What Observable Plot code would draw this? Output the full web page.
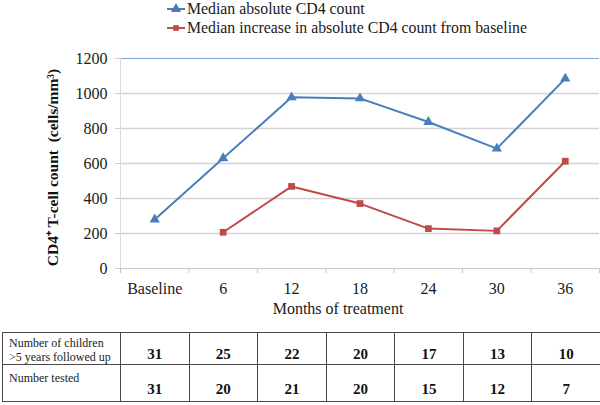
<!DOCTYPE html>
<html>
<head>
<meta charset="utf-8">
<script src="https://cdn.jsdelivr.net/npm/d3@7"></script>
<script src="https://cdn.jsdelivr.net/npm/@observablehq/plot@0.6"></script>
<style>
  html, body { margin: 0; padding: 0; background: #fff; }
  #wrap { width: 600px; height: 405px; position: relative; font-family: "Liberation Serif", "Times New Roman", serif; color: #1a1a1a; overflow: hidden; }
  #legend { height: 40px; position: relative; font-size: 15.8px; }
  .lg { position: absolute; left: 166px; display: flex; align-items: center; white-space: nowrap; }
  .lg svg { display: block; margin-right: 1px; }
  #chart svg text { font-family: "Liberation Serif", "Times New Roman", serif !important; }
  table { position: absolute; left: 2px; top: 332px; border-collapse: collapse; table-layout: fixed; width: 598px; }
  td { border: 1px solid #4a4a4a; padding: 0; font-family: "Liberation Serif", serif; overflow: hidden; }
  td.h { font-size: 12px; line-height: 14px; vertical-align: top; color: #222; white-space: nowrap; }
  tr.r1 td.h { padding: 3px 0 0 6px; }
  tr.r2 td.h { padding: 6px 0 0 6px; }
  td.n { font-weight: bold; font-size: 15px; text-align: center; vertical-align: middle; color: #111; padding-top: 12px; line-height: 15px; }
</style>
</head>
<body>
<div id="wrap">
  <div id="legend"></div>
  <div id="chart"></div>
  <table id="tbl"></table>
</div>
<script>
const categories = ["Baseline", "6", "12", "18", "24", "30", "36"];
const absoluteCD4 = [280, 630, 978, 972, 837, 685, 1085];
const increaseCD4 = [null, 207, 469, 371, 228, 215, 613];
const yTicks = [0, 200, 400, 600, 800, 1000, 1200];
const seriesNames = ["Median absolute CD4 count", "Median increase in absolute CD4 count from baseline"];
const rowLabels = [["Number of children", ">5 years followed up"], ["Number tested"]];
const followedUp = [31, 25, 22, 20, 17, 13, 10];
const tested = [31, 20, 21, 20, 15, 12, 7];
const yTitle = "CD4\u207A T-cell count  (cells/mm\u00B3)";
const xTitle = "Months of treatment";

const blue = "#4a7ebb", red = "#be4b48";
const serif = "Liberation Serif";
const idx = categories.map((_, i) => i);
const absData = idx.map(i => ({i, v: absoluteCD4[i]}));
const incData = idx.filter(i => increaseCD4[i] != null).map(i => ({i, v: increaseCD4[i]}));
const bounds = [...idx.map(i => i - 0.5), idx.length - 0.5];

// Legend
const legend = document.getElementById("legend");
[[seriesNames[0], blue, "triangle", 9], [seriesNames[1], red, "square", 28]].forEach(([name, col, sym, cy]) => {
  const div = document.createElement("div");
  div.className = "lg";
  div.style.top = (cy - 9) + "px";
  const symPath = sym === "triangle"
    ? d3.symbol(d3.symbolTriangle, Math.PI * 3.8 * 3.8)()
    : d3.symbol(d3.symbolSquare, Math.PI * 3.2 * 3.2)();
  div.innerHTML = `<svg width="20" height="18"><line x1="1" x2="19" y1="9" y2="9" stroke="${col}" stroke-width="2"/><path d="${symPath}" transform="translate(10,9)" fill="${col}"/></svg><span>${name}</span>`;
  legend.appendChild(div);
});

const chart = Plot.plot({
  width: 600,
  height: 290,
  marginLeft: 120,
  marginRight: 1,
  marginTop: 18,
  marginBottom: 62,
  style: {fontFamily: "'Liberation Serif', serif", fontSize: "16px", color: "#1a1a1a", background: "white"},
  x: {type: "linear", domain: [-0.5, idx.length - 0.5]},
  y: {domain: [0, 1200]},
  marks: [
    Plot.gridY(yTicks.filter(t => t > 0 && t < 1200), {stroke: "#d4d4d4", strokeOpacity: 1, strokeWidth: 1.3}),
    Plot.ruleY([1200], {stroke: "#7ba3d6", strokeWidth: 1.2}),
    Plot.ruleY([0], {stroke: "#c8c8c8", strokeWidth: 1.2}),
    Plot.ruleX([-0.5], {stroke: "#dadada"}),
    Plot.axisY({ticks: yTicks, tickSize: 5, tickFormat: () => "", stroke: "#cfcfcf", label: null}),
    Plot.axisY({ticks: yTicks, tickSize: 0, tickPadding: 13, tickFormat: d => String(d), label: null, fill: "#1a1a1a", fontSize: 16, fontFamily: serif}),
    Plot.axisX({ticks: bounds, tickSize: 5, tickFormat: () => "", stroke: "#c8c8c8", label: null}),
    Plot.axisX({ticks: idx, tickSize: 0, tickPadding: 14, tickFormat: i => categories[i], label: null, fill: "#1a1a1a", fontSize: 16, fontFamily: serif}),
    Plot.line(absData, {x: "i", y: "v", stroke: blue, strokeWidth: 2}),
    Plot.dot(absData, {x: "i", y: "v", symbol: "triangle", r: 3.8, fill: blue, stroke: "none"}),
    Plot.line(incData, {x: "i", y: "v", stroke: red, strokeWidth: 2}),
    Plot.dot(incData, {x: "i", y: "v", symbol: "square", r: 3.8, fill: red, stroke: "none"}),
    Plot.text([yTitle], {frameAnchor: "left", textAnchor: "middle", dx: -67, dy: 4, rotate: -90, fontWeight: "bold", fontSize: 15.5, fill: "#111", fontFamily: serif}),
    Plot.text([xTitle], {frameAnchor: "bottom", dy: 45, dx: -22, fontSize: 16, fill: "#1a1a1a", fontFamily: serif})
  ]
});
document.getElementById("chart").appendChild(chart);

// Table
const tbl = document.getElementById("tbl");
const cg = document.createElement("colgroup");
cg.innerHTML = `<col style="width:118px">` + idx.map(() => `<col style="width:68.57px">`).join("");
tbl.appendChild(cg);
[[rowLabels[0], followedUp, 32, "r1"], [rowLabels[1], tested, 37, "r2"]].forEach(([lab, vals, h, cls]) => {
  const tr = document.createElement("tr");
  tr.className = cls;
  tr.style.height = h + "px";
  const labHtml = lab.map(s => s.replace(/>/g, "&gt;")).join("<br>");
  tr.innerHTML = `<td class="h">${labHtml}</td>` + vals.map(v => `<td class="n">${v}</td>`).join("");
  tbl.appendChild(tr);
});
</script>
</body>
</html>
